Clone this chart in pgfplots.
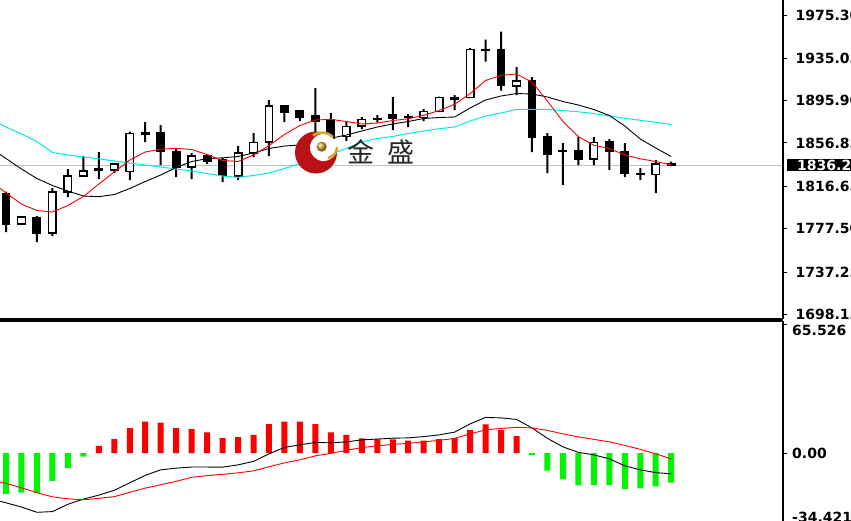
\documentclass[border=0pt]{standalone}
\usepackage{pgfplots}
\pgfplotsset{compat=1.18}
\usepackage{pgfplotstable}
\usepackage{fontspec}
\setmainfont{DejaVu Sans}
\newfontfamily\cjk{Noto Sans CJK SC}
\definecolor{macyan}{RGB}{0,235,235}
\definecolor{hgreen}{RGB}{0,245,0}
\definecolor{hred}{RGB}{250,0,0}
\definecolor{logored}{RGB}{185,18,22}
\definecolor{gold}{RGB}{212,168,48}
\tikzset{lab/.style={font=\bfseries\fontsize{14}{14}\selectfont}}

\pgfplotstableread{
i O H L C
0 1809.98 1811.83 1774.32 1781.73
1 1781.73 1789.14 1781.27 1788.21
2 1787.29 1789.14 1765.06 1773.39
3 1773.39 1815.07 1770.62 1811.37
4 1811.37 1832.67 1806.74 1826.19
5 1826.19 1844.71 1825.72 1830.82
6 1831.74 1848.41 1823.41 1832.67
7 1831.74 1838.23 1828.96 1837.30
8 1830.17 1867.21 1822.48 1865.73
9 1865.08 1876.20 1857.68 1866.01
10 1866.01 1873.42 1836.37 1849.34
11 1848.41 1851.19 1825.26 1834.52
12 1834.52 1847.49 1823.41 1844.71
13 1844.71 1846.56 1837.30 1840.08
14 1841.00 1842.86 1820.63 1827.11
15 1826.19 1853.97 1822.48 1847.49
16 1847.49 1866.01 1843.78 1857.21
17 1857.68 1896.57 1844.71 1891.02
18 1891.48 1891.94 1876.20 1885.46
19 1886.85 1887.31 1877.12 1880.83
20 1881.76 1907.69 1855.82 1877.12
21 1878.05 1884.53 1858.60 1861.38
22 1862.77 1877.12 1858.60 1872.03
23 1872.49 1880.83 1869.72 1878.51
24 1878.98 1882.68 1875.74 1879.44
25 1883.14 1899.35 1868.79 1879.90
26 1880.37 1883.61 1871.57 1880.83
27 1880.37 1888.24 1877.12 1885.92
28 1885.92 1899.82 1885.46 1898.89
29 1897.50 1901.20 1887.31 1898.89
30 1898.89 1944.73 1898.43 1943.35
31 1942.88 1952.61 1932.23 1943.35
32 1942.88 1959.83 1905.19 1910.00
33 1909.54 1927.14 1901.20 1914.17
34 1914.17 1917.88 1848.41 1862.31
35 1862.31 1866.01 1828.96 1846.56
36 1849.34 1856.75 1817.85 1848.88
37 1849.34 1862.31 1836.37 1841.93
38 1841.93 1862.31 1836.37 1857.21
39 1857.68 1860.45 1831.74 1849.34
40 1848.41 1856.75 1825.26 1828.96
41 1828.04 1833.60 1822.48 1828.50
42 1827.58 1841.00 1810.44 1837.30
43 1837.30 1839.62 1835.45 1836.20
}\candles

\pgfplotstableread{
i red black cyan
-1 1821.56 1852.12 1878.98
0 1810.44 1842.39 1871.57
1 1800.25 1832.67 1865.08
2 1794.23 1823.87 1858.14
3 1792.84 1817.39 1847.95
4 1798.86 1812.29 1845.64
5 1807.20 1807.66 1843.97
6 1818.78 1807.01 1842.12
7 1829.89 1809.05 1840.08
8 1841.00 1814.61 1838.23
9 1848.41 1821.09 1836.37
10 1851.01 1827.11 1834.52
11 1851.84 1834.06 1832.67
12 1850.73 1839.62 1830.82
13 1846.10 1842.21 1828.50
14 1840.54 1843.04 1826.19
15 1839.62 1844.25 1824.98
16 1845.64 1847.49 1826.65
17 1854.43 1851.66 1828.96
18 1864.62 1853.97 1833.13
19 1872.96 1854.90 1837.76
20 1878.05 1857.68 1842.86
21 1878.70 1861.19 1846.56
22 1876.66 1864.16 1851.66
23 1874.35 1867.86 1857.68
24 1875.27 1871.57 1860.92
25 1877.59 1874.35 1862.77
26 1879.16 1876.66 1865.55
27 1882.40 1879.44 1867.86
28 1886.85 1880.37 1869.99
29 1892.59 1880.83 1871.57
30 1902.59 1889.16 1877.12
31 1914.63 1896.57 1881.76
32 1919.45 1900.28 1884.53
33 1920.65 1902.59 1887.78
34 1913.24 1902.13 1887.96
35 1895.65 1899.35 1887.78
36 1876.66 1895.18 1886.85
37 1862.77 1891.94 1885.65
38 1854.62 1887.78 1884.07
39 1851.66 1882.22 1881.76
40 1845.64 1872.49 1879.63
41 1842.12 1860.45 1877.77
42 1839.62 1852.12 1875.92
43 1836.56 1844.25 1873.88
}\ma

\pgfplotstableread{
i macd signal
-1 -23.16 -13.53
0 -25.19 -15.31
1 -27.32 -17.59
2 -30.00 -20.02
3 -29.65 -22.15
4 -25.95 -23.16
5 -23.31 -23.67
6 -21.29 -22.91
7 -18.85 -22.05
8 -15.05 -19.87
9 -11.25 -17.74
10 -8.46 -16.07
11 -7.60 -14.29
12 -7.04 -12.26
13 -7.04 -11.40
14 -7.10 -10.74
15 -5.93 -9.98
16 -4.16 -8.97
17 -0.35 -6.94
18 2.94 -4.92
19 4.21 -3.40
20 5.47 -1.37
21 5.22 -0.10
22 5.73 1.42
23 6.74 2.84
24 7.15 3.70
25 7.60 4.46
26 7.75 4.97
27 8.41 5.73
28 9.27 6.49
29 10.69 7.50
30 14.85 9.78
31 18.14 11.81
32 17.89 12.57
33 17.13 13.08
34 12.82 12.82
35 7.50 11.56
36 3.19 9.78
37 0.41 8.26
38 -0.86 6.99
39 -2.89 5.73
40 -6.44 3.95
41 -8.46 1.93
42 -9.88 -0.35
43 -10.49 -2.89
}\macd

\begin{document}
\begin{tikzpicture}
\pgfplotsset{
  topax/.style={at={(0pt,0pt)}, anchor=north west, scale only axis,
    width=783pt, height=319pt, xmin=-0.388, xmax=50.226,
    ymin=1693.75, ymax=1989.19}
}
% price line
\begin{axis}[topax, hide axis]
\addplot[black!25, line width=0.8pt] coordinates {(-1,1836.2) (52,1836.2)};
\end{axis}
% wicks
\begin{axis}[topax, hide axis, ybar stacked, bar width=2pt]
\addplot[draw=none, fill=none] table[x=i, y=L] {\candles};
\addplot[draw=none, fill=black] table[x=i, y expr=\thisrow{H}-\thisrow{L}] {\candles};
\end{axis}
% bodies
\begin{axis}[topax, hide axis, ybar stacked, bar width=7.5pt]
\addplot[draw=none, fill=none] table[x=i, y expr={min(\thisrow{O},\thisrow{C})}] {\candles};
\addplot[draw=black, fill=white, line width=1.4pt] table[x=i, y expr={max(\thisrow{C}-\thisrow{O},0)}] {\candles};
\addplot[draw=black, fill=black, line width=1.4pt] table[x=i, y expr={max(\thisrow{O}-\thisrow{C},0)}] {\candles};
\end{axis}
% moving averages and axis
\begin{axis}[topax, clip mode=individual,
  axis x line*=bottom, axis y line*=right,
  axis line style={black, line width=1.3pt},
  xtick=\empty,
  ytick={1698.1,1737.2,1777.5,1816.6,1856.8,1895.9,1935.0,1975.3},
  yticklabels={1698.15,1737.25,1777.50,1816.65,1856.85,1895.90,1935.05,1975.30},
  tick align=outside, major tick length=4pt,
  ytick style={black, line width=1pt},
  yticklabel style={font=\bfseries\fontsize{14}{14}\selectfont, anchor=west, xshift=5pt}]
\addplot[macyan, line width=1pt] table[x=i, y=cyan] {\ma};
\addplot[black, line width=0.9pt] table[x=i, y=black] {\ma};
\addplot[hred, line width=0.9pt] table[x=i, y=red] {\ma};
\node[lab, fill=black, text=white, anchor=west, inner xsep=0pt, inner ysep=0.5pt,
  minimum height=11.5pt] at (axis cs:50.226,1836.2) [xshift=3.5pt] {\hspace{10.5pt}1836.20\hspace{10pt}};
\end{axis}
% MACD
\begin{axis}[at={(0pt,-321pt)}, anchor=north west, scale only axis,
  width=783pt, height=200pt, xmin=-0.388, xmax=50.226,
  ymin=-34.42, ymax=67.05, clip mode=individual,
  axis x line*=top, axis y line*=right,
  axis line style={black, line width=1.3pt},
  xtick=\empty, ytick={-34.421,0,65.526}, yticklabels={},
  tick align=outside, major tick length=4pt,
  ytick style={black, line width=1pt}]
\addplot[ybar, bar width=6pt, bar shift=0pt, fill=hred, draw=none] coordinates {
(6,3.7)(7,7.1)(8,12.7)(9,16.0)(10,15.5)(11,12.7)(12,12.2)(13,10.6)(14,7.6)(15,8.1)
(16,9.3)(17,14.7)(18,16.0)(19,16.0)(20,14.7)(21,10.6)(22,9.3)(23,7.5)(24,7.0)(25,7.0)
(26,6.3)(27,6.4)(28,7.1)(29,7.6)(30,11.8)(31,14.6)(32,11.8)(33,8.6)};
\addplot[ybar, bar width=6pt, bar shift=0pt, fill=hgreen, draw=none] coordinates {
(0,-20.6)(1,-20.0)(2,-20.3)(3,-14.0)(4,-7.6)(5,-1.7)(34,-1.0)(35,-8.8)(36,-13.3)
(37,-16.4)(38,-16.1)(39,-16.1)(40,-18.1)(41,-17.9)(42,-16.8)(43,-14.9)};
\addplot[black, line width=0.9pt] table[x=i, y=macd] {\macd};
\addplot[hred, line width=0.9pt] table[x=i, y=signal] {\macd};
\node[lab, anchor=west, inner sep=0pt] at (axis cs:50.226,65.526) [xshift=9pt, yshift=-6pt] {65.526};
\node[lab, anchor=west, inner sep=0pt] at (axis cs:50.226,0) [xshift=9pt] {0.00};
\node[lab, anchor=west, inner sep=0pt] at (axis cs:50.226,-34.421) [xshift=9pt, yshift=4pt] {-34.421};
\end{axis}
% logo
\fill[logored] (316pt,-152.5pt) circle (21pt);
\fill[white] (323.5pt,-147.5pt) circle (13.5pt);
\shade[ball color=gold] (321.7pt,-146.7pt) circle (5pt);
\draw[gold, line width=2.5pt] (313pt,-135.5pt) .. controls (320pt,-131pt) and (328pt,-132pt) .. (333pt,-137pt);
\draw[gold, line width=2.5pt] (337pt,-147pt) .. controls (337pt,-152pt) and (334pt,-156pt) .. (328pt,-158pt);
\node[font=\cjk\fontsize{27}{27}\selectfont, text=black!85] at (360.5pt,-151.5pt) {金};
\node[font=\cjk\fontsize{27}{27}\selectfont, text=black!85] at (400.5pt,-151.5pt) {盛};
\pgfresetboundingbox
\useasboundingbox (0pt,0pt) rectangle (851pt,-520pt);
\end{tikzpicture}
\end{document}
